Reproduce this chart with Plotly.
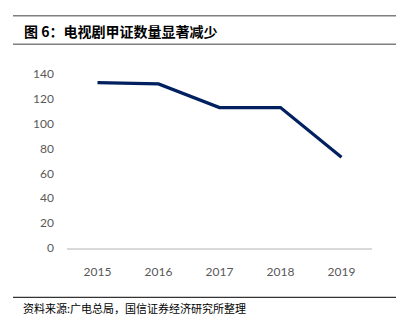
import plotly.graph_objects as go

# Annual counts of TV-drama distribution licences
years = ["2015", "2016", "2017", "2018", "2019"]
licences = [133, 132, 113, 113, 73]
y_ticks = [0, 20, 40, 60, 80, 100, 120, 140]

title_text = "图 6：电视剧甲证数量显著减少"
source_text = "资料来源:广电总局，国信证券经济研究所整理"

W, H = 405, 326
L, R, T, B = 67, 33, 74, 78
pw, ph = W - L - R, H - T - B


def px_x(x):
    return (x - L) / pw


def px_y(y):
    return (H - B - y) / ph


fig = go.Figure()
fig.add_trace(go.Scatter(
    x=years, y=licences, mode="lines",
    line=dict(color="#002060", width=3.2),
    hoverinfo="x+y",
))

cjk = "Noto Sans CJK SC"
fig.update_layout(
    width=W, height=H,
    margin=dict(l=L, r=R, t=T, b=B),
    paper_bgcolor="white", plot_bgcolor="white",
    showlegend=False,
    xaxis=dict(
        type="category", range=[-0.5, len(years) - 0.5],
        showgrid=False, zeroline=False,
        showline=True, linecolor="#d9d9d9", linewidth=1.5,
        ticks="", ticklabelstandoff=12,
        tickfont=dict(family="Lato, sans-serif", size=12, color="#595959"),
    ),
    yaxis=dict(
        range=[0, 140], tickvals=y_ticks, showgrid=False, zeroline=False,
        showline=False, ticks="", ticklabelstandoff=12,
        tickfont=dict(family="Lato, sans-serif", size=12, color="#595959"),
    ),
    shapes=[
        dict(type="line", xref="paper", yref="paper",
             x0=px_x(13), x1=px_x(396), y0=px_y(15.7), y1=px_y(15.7),
             line=dict(color="#7f7f7f", width=1.5)),
        dict(type="line", xref="paper", yref="paper",
             x0=px_x(13), x1=px_x(396), y0=px_y(44.3), y1=px_y(44.3),
             line=dict(color="#7f7f7f", width=1.5)),
        dict(type="line", xref="paper", yref="paper",
             x0=px_x(13), x1=px_x(396), y0=px_y(297.3), y1=px_y(297.3),
             line=dict(color="#000000", width=1)),
    ],
    annotations=[
        dict(text=title_text, xref="paper", yref="paper",
             x=px_x(22), y=px_y(31), xanchor="left", yanchor="middle",
             showarrow=False,
             font=dict(family=cjk, size=14, color="#000000", weight="bold")),
        dict(text=source_text, xref="paper", yref="paper",
             x=px_x(21), y=px_y(308), xanchor="left", yanchor="middle",
             showarrow=False,
             font=dict(family=cjk, size=11, color="#000000")),
    ],
)

fig.write_html("out.html")
